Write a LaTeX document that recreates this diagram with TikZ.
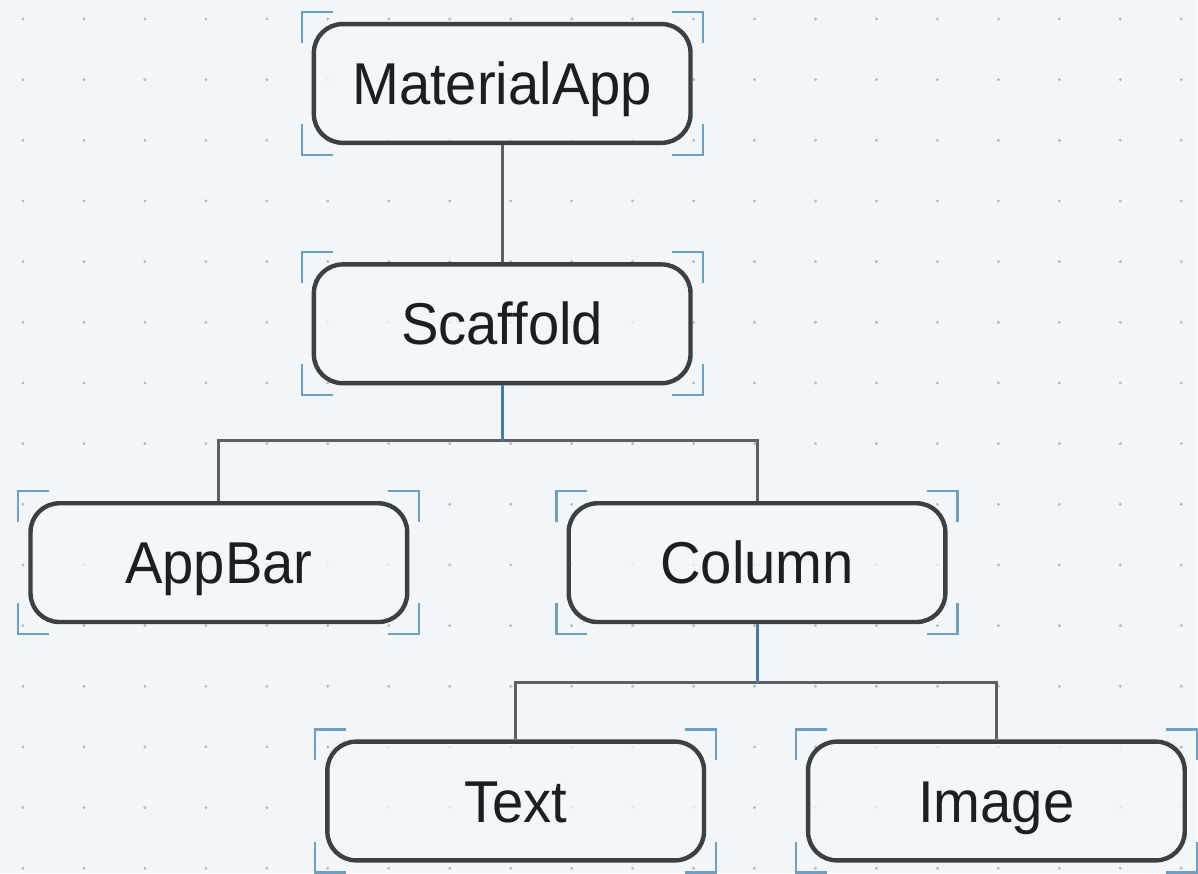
\documentclass[tikz,border=0pt]{standalone}
\usepackage{fontspec}
\setmainfont{Liberation Sans}
\usetikzlibrary{calc}

\definecolor{bgcol}{HTML}{F2F6F9}
\definecolor{dotcol}{HTML}{B4B9BE}
\definecolor{boxfill}{HTML}{F6F8FA}
\definecolor{boxline}{HTML}{3A4045}
\definecolor{textcol}{HTML}{1C1F22}
\definecolor{linkcol}{HTML}{5A6066}
\definecolor{stubcol}{HTML}{4A7BA3}
\definecolor{cornercol}{HTML}{6E9FC4}

% label text, slightly taller than the font's natural shape
\newcommand\wlabel[1]{\scalebox{1}[1.05]{#1}}

% blue corner marks just outside a widget box
\newcommand\cornermarks[1]{%
  \draw[cornermark] ($(#1.north west)+(-10,21)$) -- ++(0,-31) -- ++(31,0);
  \draw[cornermark] ($(#1.north east)+(-21,-10)$) -- ++(31,0) -- ++(0,31);
  \draw[cornermark] ($(#1.south east)+(10,-21)$) -- ++(0,31) -- ++(-31,0);
  \draw[cornermark] ($(#1.south west)+(21,10)$) -- ++(-31,0) -- ++(0,-31);
}

\begin{document}
\begin{tikzpicture}[x=0.025cm, y=-0.025cm,
  widget/.style={draw=boxline, line width=0.11cm, fill=boxfill, fill opacity=0.75,
    text opacity=1, rounded corners=0.72cm,
    minimum width=9.42cm, minimum height=2.97cm, inner sep=0pt,
    text height=30.1pt, text depth=0pt,
    font=\fontsize{40}{46}\selectfont, text=textcol},
  link/.style={draw=linkcol, line width=0.075cm},
  stub/.style={draw=stubcol, line width=0.075cm},
  cornermark/.style={draw=cornercol, line width=0.055cm}]

  % canvas and dot grid
  \fill[bgcol] (0,0) rectangle (1198,874);
  \foreach \i in {0,...,19}
    \foreach \j in {0,...,14}
      \fill[dotcol] (23+61*\i, 19+60.7*\j) circle (0.04cm);

  % junction points of the branching connectors
  \coordinate (j1) at (502.5,441);
  \coordinate (j2) at (757.5,683);

  % widget tree
  \node[widget] (app)    at (502.5,83.5)  {\wlabel{MaterialApp}};
  \node[widget] (scaf)   at (502.5,324)   {\wlabel{Scaffold}};
  \node[widget] (appbar) at (219,563)     {\wlabel{AppBar}};
  \node[widget] (col)    at (757.5,563)   {\wlabel{Column}};
  \node[widget] (txt)    at (516,801.5)   {\wlabel{Text}};
  \node[widget] (img)    at (997,801.5)   {\wlabel{Image}};

  % connectors
  \draw[link] (app.south) -- (scaf.north);
  \draw[link] (appbar.north) |- (j1) -| (col.north);
  \draw[stub] (scaf.south) -- (j1);
  \draw[link] (txt.north) |- (j2) -| (img.north);
  \draw[stub] (col.south) -- (j2);

  % corner marks
  \cornermarks{app}
  \cornermarks{scaf}
  \cornermarks{appbar}
  \cornermarks{col}
  \cornermarks{txt}
  \cornermarks{img}
\end{tikzpicture}
\end{document}
